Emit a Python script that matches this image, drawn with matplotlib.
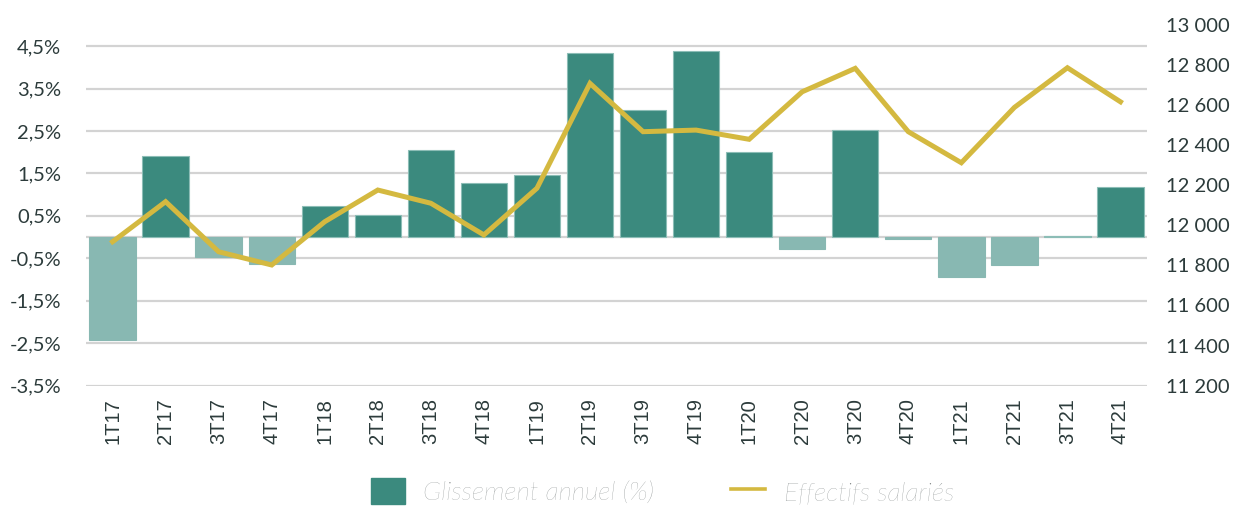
import matplotlib
matplotlib.use("Agg")
import matplotlib.pyplot as plt
from matplotlib.patches import Patch
from matplotlib.lines import Line2D
import numpy as np

categories = ["1T17", "2T17", "3T17", "4T17", "1T18", "2T18", "3T18", "4T18",
              "1T19", "2T19", "3T19", "4T19", "1T20", "2T20", "3T20", "4T20",
              "1T21", "2T21", "3T21", "4T21"]
glissement = [-2.42, 1.92, -0.46, -0.63, 0.74, 0.53, 2.05, 1.27,
              1.46, 4.33, 2.99, 4.39, 2.00, -0.29, 2.52, -0.045,
              -0.93, -0.65, 0.03, 1.17]
effectifs = [11918, 12118, 11868, 11802, 12018, 12176, 12110, 11952,
             12185, 12708, 12467, 12475, 12429, 12666, 12783, 12467,
             12312, 12588, 12786, 12616]
left_ticks = [-3.5, -2.5, -1.5, -0.5, 0.5, 1.5, 2.5, 3.5, 4.5]
right_ticks = [11200, 11400, 11600, 11800, 12000, 12200, 12400, 12600, 12800, 13000]

DARK = "#3B8A7E"
LIGHT = "#88B8B2"
GOLD = "#D4B940"
TXT = "#2C3B3B"
GRID = "#D3D3D3"

fig = plt.figure(figsize=(12.38, 5.07), dpi=100)
ax = fig.add_axes([0.0695, 0.2393, 0.857, 0.7117])
ax2 = ax.twinx()

x = np.arange(len(categories))
colors = [DARK if v >= 0 else LIGHT for v in glissement]
ax.bar(x, glissement, width=0.875, color=colors, zorder=2,
       edgecolor=[("#8CBDB6" if v >= 0 else LIGHT) for v in glissement], linewidth=0.8)
ax.set_ylim(-3.5, 5.0)
ax.set_xlim(-0.5, len(categories) - 0.5)
ax.set_yticks(left_ticks)
ax.set_yticklabels([f"{t:.1f}%".replace(".", ",") for t in left_ticks],
                   fontfamily="Lato", fontsize=14.5, color=TXT)
for t in left_ticks + [0]:
    ax.axhline(t, color=GRID, lw=1.6, zorder=1)
ax.set_xticks(x)
ax.set_xticklabels(categories, rotation=90, fontfamily="Liberation Sans",
                   fontsize=14.5, color=TXT)
ax.tick_params(axis="x", length=0, pad=9)
ax.tick_params(axis="y", length=0, pad=18)

ax2.plot(x, effectifs, color=GOLD, lw=3.6, solid_joinstyle="miter", zorder=3)
ax2.set_ylim(11200, 13000)
ax2.set_yticks(right_ticks)
ax2.set_yticklabels([f"{t:,}".replace(",", " ") for t in right_ticks],
                    fontfamily="Lato", fontsize=14.5, color=TXT)
ax2.tick_params(axis="y", length=0, pad=14)

for a in (ax, ax2):
    for s in a.spines.values():
        s.set_visible(False)

handles = [Patch(facecolor=DARK, edgecolor=DARK),
           Line2D([0], [0], color=GOLD, lw=2.6)]
leg = fig.legend(handles, ["Glissement annuel (%)", "Effectifs salariés"],
                 loc="center", bbox_to_anchor=(0.535, 0.03), ncol=2, frameon=False,
                 prop={"family": "Lato", "style": "italic", "weight": "light", "size": 19},
                 handlelength=1.3, handleheight=1.15, handletextpad=0.7,
                 columnspacing=2.9, labelcolor="#7A8080")

fig.savefig("out.png", dpi=100, facecolor="white")
